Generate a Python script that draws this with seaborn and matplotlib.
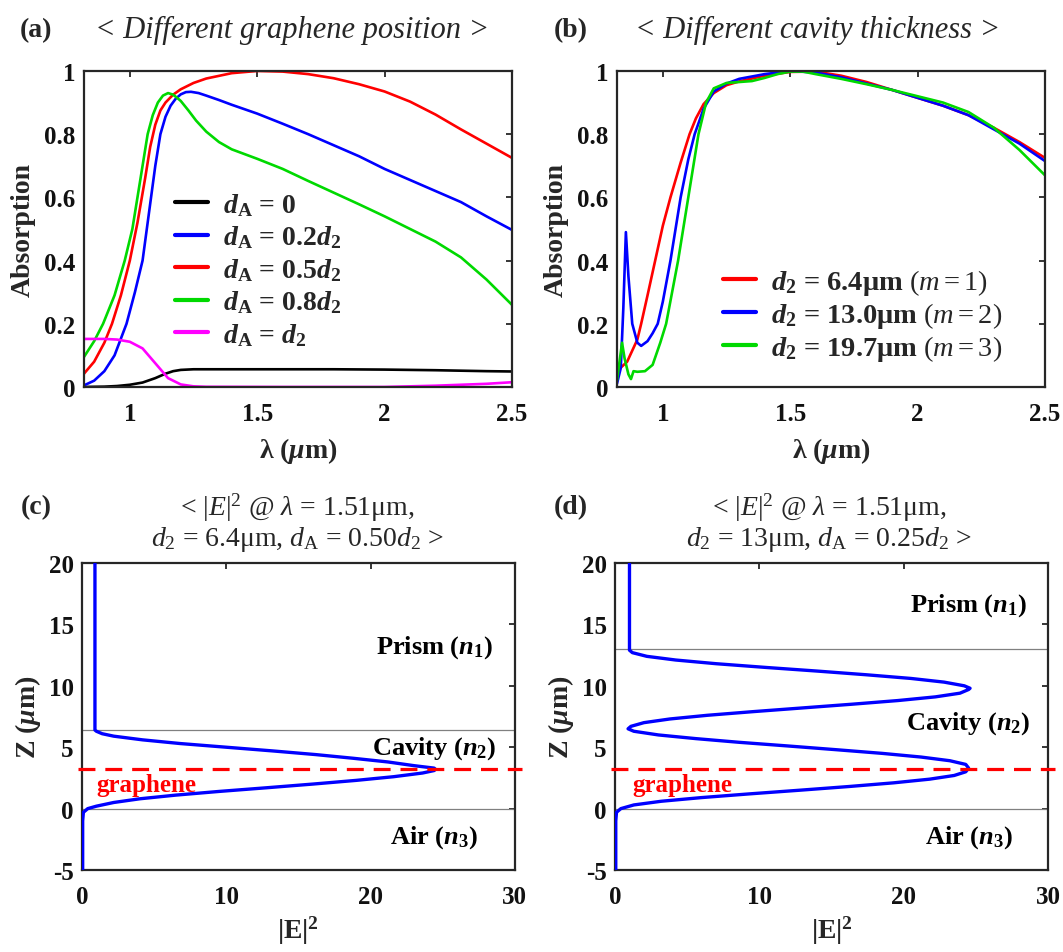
import numpy as np
import pandas as pd
import matplotlib
matplotlib.use("Agg")
import matplotlib.pyplot as plt
import seaborn as sns

# ---------------- data ----------------
# (a) absorption vs wavelength, different graphene position
lam_a_black = [0.82, 0.9, 0.95, 1.0, 1.05, 1.1, 1.14, 1.17, 1.2, 1.25, 1.5, 1.8, 2.0, 2.2, 2.4, 2.5]
abs_a_black = [0.0, 0.001, 0.003, 0.007, 0.014, 0.028, 0.042, 0.05, 0.054, 0.056, 0.056, 0.056, 0.055, 0.053, 0.050, 0.049]

lam_a_blue = [0.82, 0.86, 0.9, 0.94, 0.987, 1.02, 1.05, 1.08, 1.1, 1.12, 1.14, 1.16, 1.18, 1.2, 1.22, 1.24,
              1.27, 1.3, 1.35, 1.4, 1.5, 1.6, 1.7, 1.8, 1.9, 2.0, 2.1, 2.2, 2.3, 2.4, 2.5]
abs_a_blue = [0.005, 0.02, 0.05, 0.1, 0.2, 0.3, 0.4, 0.58, 0.7, 0.8, 0.855, 0.89, 0.912, 0.926, 0.933, 0.934,
              0.93, 0.922, 0.908, 0.893, 0.865, 0.833, 0.80, 0.765, 0.73, 0.69, 0.655, 0.62, 0.585, 0.54, 0.497]

lam_a_red = [0.82, 0.86, 0.9, 0.93, 0.965, 1.0, 1.03, 1.06, 1.08, 1.1, 1.12, 1.14, 1.17, 1.2, 1.25, 1.3, 1.4,
             1.5, 1.6, 1.7, 1.8, 1.9, 2.0, 2.1, 2.2, 2.3, 2.4, 2.5]
abs_a_red = [0.042, 0.08, 0.14, 0.2, 0.29, 0.40, 0.52, 0.66, 0.76, 0.83, 0.875, 0.90, 0.925, 0.942, 0.962, 0.976, 0.993,
             1.0, 0.998, 0.99, 0.977, 0.958, 0.935, 0.903, 0.862, 0.815, 0.77, 0.725]

lam_a_green = [0.82, 0.86, 0.895, 0.94, 0.98, 1.01, 1.04, 1.07, 1.09, 1.11, 1.13, 1.15, 1.17, 1.19, 1.2, 1.23,
               1.26, 1.3, 1.35, 1.4, 1.45, 1.5, 1.6, 1.7, 1.8, 1.9, 2.0, 2.1, 2.2, 2.3, 2.4, 2.5]
abs_a_green = [0.095, 0.145, 0.2, 0.29, 0.40, 0.5, 0.65, 0.80, 0.86, 0.90, 0.922, 0.93, 0.925, 0.912, 0.905, 0.875,
               0.843, 0.808, 0.775, 0.752, 0.737, 0.722, 0.69, 0.652, 0.615, 0.578, 0.54, 0.5, 0.46, 0.41, 0.34, 0.26]

lam_a_mag = [0.82, 0.9, 0.95, 1.0, 1.05, 1.1, 1.15, 1.2, 1.25, 1.3, 1.6, 2.0, 2.2, 2.4, 2.5]
abs_a_mag = [0.152, 0.152, 0.150, 0.143, 0.122, 0.075, 0.028, 0.008, 0.002, 0.0005, 0.0, 0.0, 0.004, 0.010, 0.015]

labels_a = [r"$\mathbfit{d}_\mathbf{A}$ = 0",
            r"$\mathbfit{d}_\mathbf{A}$ = 0.2$\mathbfit{d}_\mathbf{2}$",
            r"$\mathbfit{d}_\mathbf{A}$ = 0.5$\mathbfit{d}_\mathbf{2}$",
            r"$\mathbfit{d}_\mathbf{A}$ = 0.8$\mathbfit{d}_\mathbf{2}$",
            r"$\mathbfit{d}_\mathbf{A}$ = $\mathbfit{d}_\mathbf{2}$"]

# (b) absorption vs wavelength, different cavity thickness
lam_b_red = [0.82, 0.86, 0.9, 0.915, 0.94, 0.97, 1.0, 1.03, 1.07, 1.105, 1.13, 1.16, 1.2, 1.25, 1.3, 1.4,
             1.5, 1.6, 1.7, 1.8, 1.9, 2.0, 2.1, 2.2, 2.3, 2.4, 2.5]
abs_b_red = [0.05, 0.08, 0.15, 0.2, 0.29, 0.4, 0.51, 0.6, 0.71, 0.8, 0.85, 0.895, 0.93, 0.955, 0.967, 0.985,
             0.997, 0.998, 0.985, 0.965, 0.94, 0.915, 0.89, 0.86, 0.82, 0.775, 0.725]

lam_b_blue = [0.82, 0.835, 0.845, 0.855, 0.865, 0.88, 0.9, 0.915, 0.94, 0.96, 0.98, 1.0, 1.03, 1.07, 1.1,
              1.125, 1.16, 1.2, 1.25, 1.3, 1.4, 1.5, 1.6, 1.7, 1.8, 1.9, 2.0, 2.1, 2.2, 2.3, 2.4, 2.5]
abs_b_blue = [0.01, 0.06, 0.25, 0.49, 0.35, 0.2, 0.14, 0.13, 0.145, 0.17, 0.2, 0.27, 0.4, 0.6, 0.72,
              0.8, 0.88, 0.935, 0.96, 0.975, 0.99, 1.0, 0.995, 0.98, 0.96, 0.94, 0.915, 0.89, 0.86, 0.815, 0.77, 0.715]

lam_b_green = [0.82, 0.83, 0.84, 0.85, 0.865, 0.875, 0.885, 0.9, 0.93, 0.96, 0.99, 1.013, 1.06, 1.1, 1.14,
               1.17, 1.2, 1.25, 1.3, 1.35, 1.4, 1.45, 1.5, 1.55, 1.6, 1.7, 1.8, 1.9, 2.0, 2.1, 2.2, 2.3, 2.4, 2.5]
abs_b_green = [0.02, 0.08, 0.14, 0.09, 0.04, 0.025, 0.05, 0.048, 0.05, 0.07, 0.14, 0.2, 0.4, 0.6, 0.8,
               0.9, 0.945, 0.962, 0.965, 0.968, 0.978, 0.99, 0.998, 0.998, 0.99, 0.975, 0.958, 0.94, 0.92, 0.9, 0.87, 0.82, 0.75, 0.67]

labels_b = [r"$\mathbfit{d}_\mathbf{2}$ = 6.4μm $(m = 1)$",
            r"$\mathbfit{d}_\mathbf{2}$ = 13.0μm $(m = 2)$",
            r"$\mathbfit{d}_\mathbf{2}$ = 19.7μm $(m = 3)$"]

# (c) |E|^2 profile, d2 = 6.4 um, dA = 0.5 d2
z_c = [-5, -1, -0.3, 0, 0.2, 0.5, 0.8, 1.1, 1.4, 1.7, 2.0, 2.3, 2.6, 2.9, 3.1, 3.2, 3.3, 3.5, 3.8, 4.1,
       4.4, 4.7, 5.0, 5.3, 5.6, 5.9, 6.1, 6.3, 6.4, 6.6, 20]
e2_c = [0.05, 0.05, 0.1, 0.4, 1.0, 2.2, 4.0, 6.5, 9.5, 12.8, 16.0, 19.0, 21.6, 23.6, 24.4, 24.5, 24.4, 23.0, 21.2, 18.8,
        16.2, 13.2, 10.0, 6.8, 4.2, 2.2, 1.4, 1.0, 0.9, 0.9, 0.9]
layers_c = [0.0, 6.4]
graphene_c = 3.2

# (d) |E|^2 profile, d2 = 13 um, dA = 0.25 d2
z_d = [-5, -1, -0.3, 0, 0.3, 0.6, 0.9, 1.2, 1.5, 1.8, 2.1, 2.4, 2.7, 3.0, 3.3, 3.6, 3.9, 4.2, 4.5, 4.8,
       5.1, 5.4, 5.7, 6.0, 6.3, 6.5, 6.7, 7.0, 7.3, 7.6, 7.9, 8.2, 8.5, 8.8, 9.1, 9.4, 9.7, 9.8, 10.0, 10.3,
       10.6, 10.9, 11.2, 11.5, 11.8, 12.1, 12.4, 12.7, 12.9, 13.1, 20]
e2_d = [0.05, 0.05, 0.1, 0.4, 1.3, 3.2, 6.0, 9.3, 12.8, 16.2, 19.3, 21.8, 23.5, 24.3, 24.5, 24.3, 23.2, 21.2, 18.5, 15.3,
        12.0, 8.6, 5.6, 3.0, 1.3, 0.9, 1.1, 2.0, 3.8, 6.4, 9.6, 13.0, 16.4, 19.6, 22.2, 23.9, 24.5, 24.6, 24.2, 22.8,
        20.5, 17.4, 14.0, 10.4, 7.0, 4.2, 2.2, 1.2, 1.0, 1.0, 1.0]
layers_d = [0.0, 13.0]
graphene_d = 3.25

# ---------------- style ----------------
sns.set_theme(style="white")
plt.rcParams["font.family"] = ["Liberation Serif", "DejaVu Serif"]
plt.rcParams["mathtext.fontset"] = "custom"
plt.rcParams["mathtext.rm"] = "Liberation Serif"
plt.rcParams["mathtext.it"] = "Liberation Serif:italic"
plt.rcParams["mathtext.bf"] = "Liberation Serif:bold"
plt.rcParams["mathtext.bfit"] = "Liberation Serif:bold:italic"
plt.rcParams["axes.unicode_minus"] = False

fig = plt.figure(figsize=(10.63, 9.53), dpi=100)
fig.patch.set_facecolor("white")

ax_a = fig.add_axes([0.079, 0.5929, 0.4026, 0.3316])
ax_b = fig.add_axes([0.5804, 0.5929, 0.4026, 0.3316])
ax_c = fig.add_axes([0.0771, 0.0860, 0.4073, 0.3222])
ax_d = fig.add_axes([0.5786, 0.0860, 0.4073, 0.3222])

TICK_FS = 18
LAB_FS = 20
SPINE = "#262626"
LW = 1.9

def style_axes(ax):
    for s in ax.spines.values():
        s.set_color(SPINE)
        s.set_linewidth(1.6)
        s.set_visible(True)
    ax.tick_params(direction="in", length=4, width=1.3, color=SPINE,
                   top=True, right=True, labelsize=TICK_FS, pad=6, labelcolor="#111111")
    ax.tick_params(axis="x", pad=11)
    for lab in ax.get_xticklabels() + ax.get_yticklabels():
        lab.set_fontweight("bold")
    ax.set_facecolor("white")

GREEN = (0.0, 0.85, 0.0)

# (a)
series_a = [(lam_a_black, abs_a_black, "black"), (lam_a_blue, abs_a_blue, "blue"),
            (lam_a_red, abs_a_red, "red"), (lam_a_green, abs_a_green, GREEN),
            (lam_a_mag, abs_a_mag, "magenta")]
for (x, y, c), lab in zip(series_a, labels_a):
    sns.lineplot(x=x, y=y, ax=ax_a, color=c, linewidth=LW, label=lab, sort=False)
ax_a.set_xlim(0.82, 2.5)
ax_a.set_ylim(0, 1)
ax_a.set_xticks([1, 1.5, 2, 2.5])
ax_a.set_xticklabels(["1", "1.5", "2", "2.5"])
ax_a.set_yticks([0, 0.2, 0.4, 0.6, 0.8, 1])
ax_a.set_yticklabels(["0", "0.2", "0.4", "0.6", "0.8", "1"])
style_axes(ax_a)
ax_a.set_xlabel(r"λ ($\mathbfit{\mu}$m)", fontsize=LAB_FS, fontweight="bold", labelpad=7)
ax_a.set_ylabel("Absorption", fontsize=LAB_FS, fontweight="bold", labelpad=6)
leg = ax_a.legend(loc="upper left", bbox_to_anchor=(0.2126, 0.62), frameon=False,
                  prop={"size": 20, "weight": "bold"}, handlelength=1.19, handletextpad=0.54,
                  labelspacing=0.2, borderpad=0, borderaxespad=0)
for h in leg.get_lines():
    h.set_linewidth(3)

# (b)
series_b = [(lam_b_red, abs_b_red, "red"), (lam_b_blue, abs_b_blue, "blue"),
            (lam_b_green, abs_b_green, GREEN)]
for (x, y, c), lab in zip(series_b, labels_b):
    sns.lineplot(x=x, y=y, ax=ax_b, color=c, linewidth=LW, label=lab, sort=False)
ax_b.set_xlim(0.82, 2.5)
ax_b.set_ylim(0, 1)
ax_b.set_xticks([1, 1.5, 2, 2.5])
ax_b.set_xticklabels(["1", "1.5", "2", "2.5"])
ax_b.set_yticks([0, 0.2, 0.4, 0.6, 0.8, 1])
ax_b.set_yticklabels(["0", "0.2", "0.4", "0.6", "0.8", "1"])
style_axes(ax_b)
ax_b.set_xlabel(r"λ ($\mathbfit{\mu}$m)", fontsize=LAB_FS, fontweight="bold", labelpad=7)
ax_b.set_ylabel("Absorption", fontsize=LAB_FS, fontweight="bold", labelpad=6)
leg = ax_b.legend(loc="upper left", bbox_to_anchor=(0.2477, 0.381), frameon=False,
                  prop={"size": 20.5, "weight": "bold"}, handlelength=1.16, handletextpad=0.53,
                  labelspacing=0.12, borderpad=0, borderaxespad=0)
for h in leg.get_lines():
    h.set_linewidth(3)

# (c), (d)
def field_panel(ax, z, e2, layers, gz, txt_pos, gtxt_x):
    for L in layers:
        ax.axhline(L, color="gray", linewidth=0.9, zorder=1)
    sns.lineplot(x=e2, y=z, ax=ax, color="blue", linewidth=2.4, orient="y", sort=False, zorder=3)
    ax.plot([-0.3, 30.5], [gz, gz], color="red", linestyle=(0, (5.3, 3.1)), linewidth=2.3,
            clip_on=False, zorder=4)
    ax.set_xlim(0, 30)
    ax.set_ylim(-5, 20)
    ax.set_xticks([0, 10, 20, 30])
    ax.set_yticks([-5, 0, 5, 10, 15, 20])
    style_axes(ax)
    ax.set_xlabel(r"|E|$^\mathbf{2}$", fontsize=LAB_FS, fontweight="bold", labelpad=4)
    ax.set_ylabel(r"Z ($\mathbfit{\mu}$m)", fontsize=LAB_FS, fontweight="bold", labelpad=4)
    (px, py), (cx, cy), (ax_, ay) = txt_pos
    ax.text(px, py, r"Prism ($\mathbfit{n}_\mathbf{1}$)", fontsize=19, fontweight="bold",
            ha="center", va="center", color="black")
    ax.text(cx, cy, r"Cavity ($\mathbfit{n}_\mathbf{2}$)", fontsize=19, fontweight="bold",
            ha="center", va="center", color="black")
    ax.text(ax_, ay, r"Air ($\mathbfit{n}_\mathbf{3}$)", fontsize=19, fontweight="bold",
            ha="center", va="center", color="black")
    ax.text(gtxt_x, 2.0, "graphene", fontsize=18, fontweight="bold", color="red",
            ha="left", va="center")

field_panel(ax_c, z_c, e2_c, layers_c, graphene_c,
            ((24.4, 13.2), (24.4, 5.0), (24.4, -2.3)), 1.0)
field_panel(ax_d, z_d, e2_d, layers_d, graphene_d,
            ((24.5, 16.6), (24.5, 7.0), (24.5, -2.3)), 1.2)

# titles and panel labels
fig.text(0.034, 0.968, "(a)", fontsize=20, fontweight="bold", ha="center", va="center")
fig.text(0.537, 0.968, "(b)", fontsize=20, fontweight="bold", ha="center", va="center")
fig.text(0.034, 0.467, "(c)", fontsize=20, fontweight="bold", ha="center", va="center")
fig.text(0.537, 0.467, "(d)", fontsize=20, fontweight="bold", ha="center", va="center")
fig.text(0.2752, 0.968, "< Different graphene position >", fontsize=22, style="italic",
         ha="center", va="center")
fig.text(0.7695, 0.968, "< Different cavity thickness >", fontsize=22, style="italic",
         ha="center", va="center")
fig.text(0.2794, 0.467, r"< $|E|^2$ @ $\lambda$ = 1.51μm,", fontsize=20, ha="center", va="center")
fig.text(0.2794, 0.4334, r"$d_2$ = 6.4μm, $d_\mathrm{A}$ = 0.50$d_2$ >", fontsize=20, ha="center", va="center")
fig.text(0.780, 0.467, r"< $|E|^2$ @ $\lambda$ = 1.51μm,", fontsize=20, ha="center", va="center")
fig.text(0.780, 0.4334, r"$d_2$ = 13μm, $d_\mathrm{A}$ = 0.25$d_2$ >", fontsize=20, ha="center", va="center")

fig.savefig("out.png", dpi=100, facecolor="white")
